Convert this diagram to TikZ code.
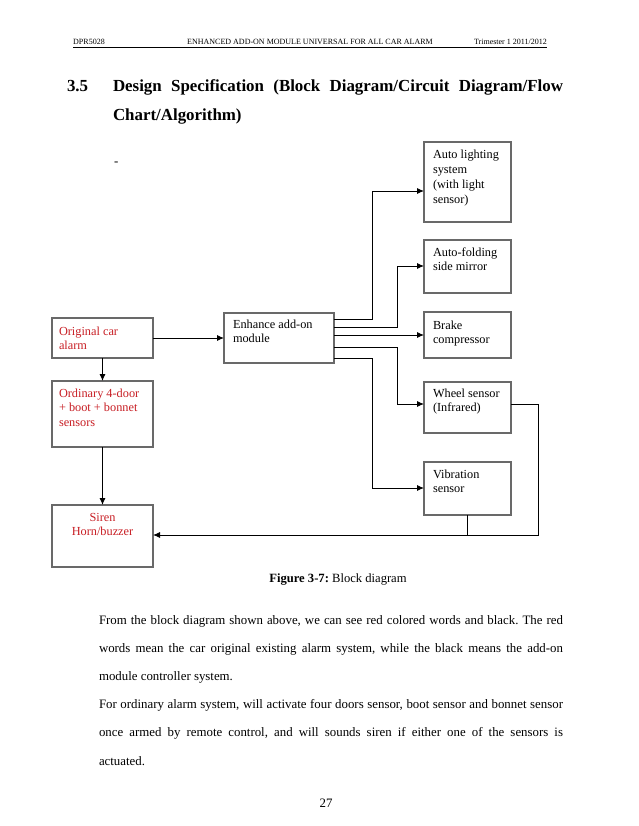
\documentclass[tikz,border=0pt]{standalone}
\usepackage{fontspec}
\setmainfont{Liberation Serif}
\usetikzlibrary{arrows.meta}
\definecolor{alarmred}{RGB}{200,30,36}
\definecolor{boxgray}{RGB}{105,105,105}
\newcommand{\dgtext}[2]{\parbox[t]{#1}{\fontsize{12.3}{14.7}\selectfont #2}}
\frenchspacing
\begin{document}
\begin{tikzpicture}[x=1pt,y=-1pt,
  box/.style={draw=boxgray, line width=1.1pt, inner sep=0pt, outer sep=0pt, anchor=north west},
  lbl/.style={anchor=base west, inner sep=0pt, outer sep=0pt},
  redtxt/.style={lbl, text=alarmred},
  conn/.style={line width=0.9pt, -{Latex[length=7pt,width=6pt]}},
  wire/.style={line width=0.9pt},
  hdr/.style={inner sep=0pt, font=\fontsize{8}{9.6}\selectfont},
  bodyfont/.style={font=\fontsize{12.86}{15}\selectfont}]
\fill[white] (0,0) rectangle (638,826);
\useasboundingbox (0,0) rectangle (638,826);

% header
\node[hdr, anchor=base west] (hl) at (73,45) {DPR5028};
\node[hdr, anchor=base] (hc) at (310,45) {ENHANCED ADD-ON MODULE UNIVERSAL FOR ALL CAR ALARM};
\node[hdr, anchor=base east] (hr) at (547,45) {Trimester 1 2011/2012};
\draw[line width=0.7pt] ([yshift=-2.5pt]hl.base west) -- ([yshift=-2.5pt]hr.base east);

% title
\node[lbl, font=\fontsize{16.9}{29}\bfseries\selectfont] (num) at (67,92) {3.5};
\node[lbl] (ttl) at (113,92) {\parbox[t]{450pt}{\fontsize{16.9}{29}\bfseries\selectfont\setlength{\parindent}{0pt}Design Specification (Block Diagram/Circuit Diagram/Flow\linebreak Chart/Algorithm)}};
\node[lbl, bodyfont] (dash) at (114,166) {-};

% boxes
\node[box, minimum width=87pt, minimum height=80pt] (auto) at (424,142) {};
\node[box, minimum width=87pt, minimum height=53pt] (fold) at (424,240) {};
\node[box, minimum width=87pt, minimum height=46pt] (brake) at (424,312) {};
\node[box, minimum width=87pt, minimum height=51pt] (wheel) at (424,382) {};
\node[box, minimum width=87pt, minimum height=53pt] (vib) at (424,462) {};
\node[box, minimum width=110pt, minimum height=50pt] (enh) at (224,313) {};
\node[box, minimum width=101pt, minimum height=40pt] (orig) at (52,318) {};
\node[box, minimum width=101pt, minimum height=66pt] (ord) at (52,381) {};
\node[box, minimum width=101pt, minimum height=62pt] (siren) at (52,505) {};

% box texts
\node[lbl] (autot) at (433,159) {\dgtext{76pt}{\raggedright Auto lighting\\system\\(with light\\sensor)}};
\node[lbl] (foldt) at (433,256) {\dgtext{76pt}{\raggedright Auto-folding\\side mirror}};
\node[lbl] (braket) at (433,329) {\dgtext{76pt}{\raggedright Brake\\compressor}};
\node[lbl] (wheelt) at (433,397) {\dgtext{76pt}{\raggedright Wheel sensor\\(Infrared)}};
\node[lbl] (vibt) at (433,478) {\dgtext{76pt}{\raggedright Vibration\\sensor}};
\node[lbl] (enht) at (233,328) {\dgtext{98pt}{\raggedright Enhance add-on\\module}};
\node[redtxt] (origt) at (59,335) {\dgtext{92pt}{\raggedright Original car\\alarm}};
\node[redtxt] (ordt) at (59,397) {\dgtext{92pt}{\raggedright Ordinary 4-door\\+ boot + bonnet\\sensors}};
\node[redtxt] (sirent) at (52,521) {\dgtext{101pt}{\centering Siren\\Horn/buzzer}};

% connectors
\draw[conn] (orig.east) -- (enh.west);
\draw[conn] (orig.south) -- (ord.north);
\draw[conn] (ord.south) -- (siren.north);
\draw[conn] ([yshift=-6pt]enh.north east) -| ([xshift=-52pt,yshift=-49pt]auto.north west) -- ([yshift=-49pt]auto.north west);
\draw[conn] ([yshift=-14pt]enh.north east) -| ([xshift=-27pt,yshift=-26pt]fold.north west) -- ([yshift=-26pt]fold.north west);
\draw[conn] ([yshift=-22pt]enh.north east) -- ([yshift=-23pt]brake.north west);
\draw[conn] ([yshift=-34pt]enh.north east) -| ([xshift=-27pt,yshift=-22pt]wheel.north west) -- ([yshift=-22pt]wheel.north west);
\draw[conn] ([yshift=-45pt]enh.north east) -| ([xshift=-52pt,yshift=-26pt]vib.north west) -- ([yshift=-26pt]vib.north west);
\coordinate (fb) at (538,535);
\draw[conn] ([yshift=-22pt]wheel.north east) -| (fb) -- (siren.east |- fb);
\draw[wire] (vib.south) -- (vib.south |- fb);

% caption and body
\node[anchor=base, inner sep=0pt, font=\fontsize{12.6}{15}\selectfont] (cap) at (338,582) {\textbf{Figure 3-7:} Block diagram};
\node[lbl] (body) at (99,624) {\parbox[t]{464pt}{\fontsize{12.86}{28.2}\selectfont\setlength{\parindent}{0pt}From the block diagram shown above, we can see red colored words and black. The red\linebreak words mean the car original existing alarm system, while the black means the add-on\linebreak module controller system.\par For ordinary alarm system, will activate four doors sensor, boot sensor and bonnet sensor\linebreak once armed by remote control, and will sounds siren if either one of the sensors is\linebreak actuated.}};
\node[anchor=base, inner sep=0pt, bodyfont] (pg) at (326,807) {27};
\end{tikzpicture}
\end{document}
